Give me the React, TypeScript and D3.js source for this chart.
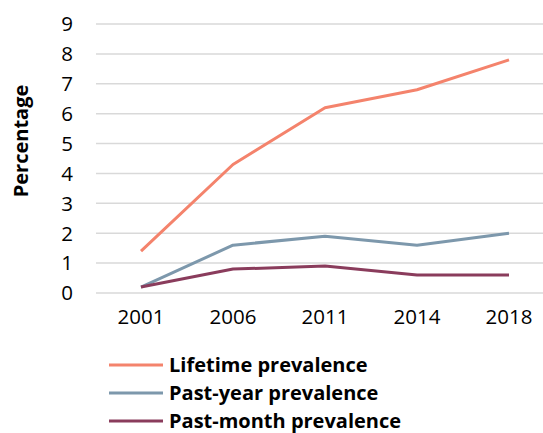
import React from "react";
import * as d3 from "d3";

const years = ["2001", "2006", "2011", "2014", "2018"];
const lifetime = [1.4, 4.3, 6.2, 6.8, 7.8];
const pastYear = [0.2, 1.6, 1.9, 1.6, 2.0];
const pastMonth = [0.2, 0.8, 0.9, 0.6, 0.6];
const yTicks = [0, 1, 2, 3, 4, 5, 6, 7, 8, 9];
const seriesNames = ["Lifetime prevalence", "Past-year prevalence", "Past-month prevalence"];
const colors = ["#F4836C", "#7D98AC", "#8A3C5C"];

const W = 543, H = 433;
const FONT = "'Open Sans', 'Liberation Sans', sans-serif";

export default function App() {
  const series = [lifetime, pastYear, pastMonth];
  const x = d3.scalePoint<string>().domain(years).range([141, 509]);
  const y = d3.scaleLinear().domain([0, 9]).range([293, 24]);
  const line = d3.line<number>().x((_, i) => x(years[i]) as number).y(d => y(d));

  return (
    <svg width={W} height={H} style={{ position: "absolute", left: 0, top: 0 }} fontFamily={FONT}>
      <rect width={W} height={H} fill="#fff" />
      {yTicks.map(t => (
        <g key={t}>
          <line x1={96} x2={W} y1={y(t)} y2={y(t)} stroke="#D9D9D9" strokeWidth={1.5} />
          <text x={73} y={y(t)} dy="0.36em" textAnchor="end" fontSize={20.5} fill="#000">{t}</text>
        </g>
      ))}
      {years.map(yr => (
        <text key={yr} x={x(yr)} y={324} textAnchor="middle" fontSize={20.5} fill="#000">{yr}</text>
      ))}
      <text transform={`translate(28,141) rotate(-90)`} textAnchor="middle" fontSize={20} fontWeight="bold" fill="#000">Percentage</text>
      {series.map((s, i) => (
        <path key={i} d={line(s) as string} fill="none" stroke={colors[i]} strokeWidth={3} strokeLinejoin="round" />
      ))}
      {seriesNames.map((n, i) => {
        const ly = 365 + i * 28;
        return (
          <g key={n}>
            <line x1={109} x2={163} y1={ly} y2={ly} stroke={colors[i]} strokeWidth={3} />
            <text x={169} y={ly} dy="0.36em" fontSize={20} fontWeight="bold" fill="#000">{n}</text>
          </g>
        );
      })}
    </svg>
  );
}
